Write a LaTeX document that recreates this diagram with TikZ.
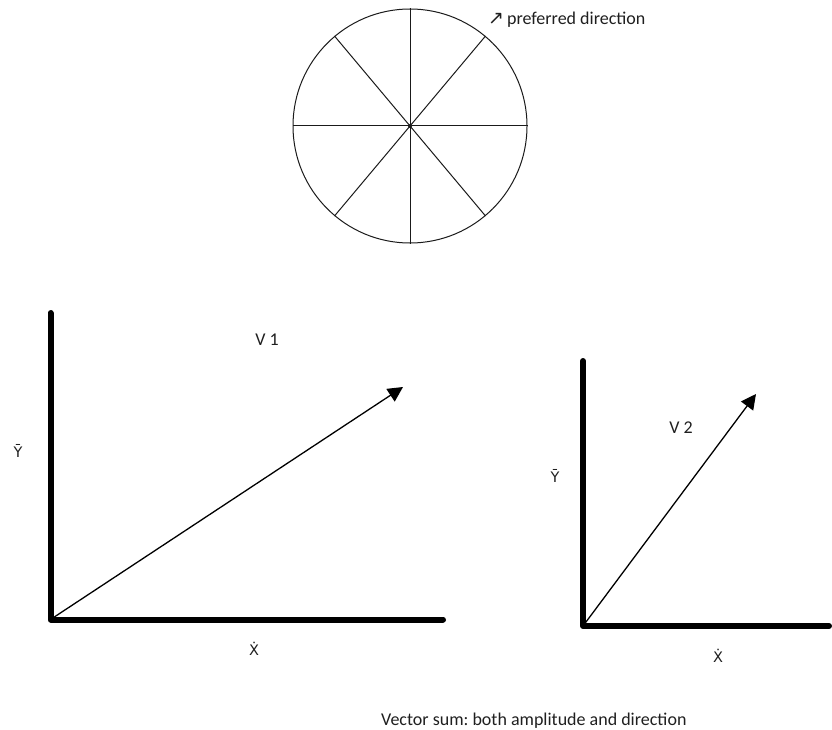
\documentclass[tikz,border=0pt]{standalone}
\usepackage{fontspec}
\setmainfont{Carlito}
\newfontfamily\arrowfont{DejaVu Sans}
\usepackage{tikz}
\usetikzlibrary{arrows.meta,positioning}
\definecolor{inkcolor}{HTML}{000000}
\definecolor{wheelcolor}{HTML}{1A1A1A}
\definecolor{labelcolor}{HTML}{1F1F1F}
\frenchspacing

\begin{document}
\begin{tikzpicture}[x=1pt, y=-1pt,
    every node/.style={font=\fontsize{18}{21}\selectfont, text=labelcolor, inner sep=0pt},
    axislabel/.style={font=\arrowfont\fontsize{14.5}{17}\selectfont},
    axisline/.style={line width=6pt, line cap=round, line join=round, color=inkcolor},
    vecline/.style={line width=1.3pt, color=inkcolor, -{Triangle[length=15pt,width=15pt]}}]
    \useasboundingbox (0,0) rectangle (832,730);

    % Direction wheel
    \node[circle, draw=wheelcolor, line width=1pt, minimum size=234pt] (wheel) at (410,126) {};
    \foreach \a in {0,50,90,130,180,230,270,310} {
        \draw[wheelcolor, line width=1pt] (wheel.center) -- (wheel.\a);
    }
    \fill[wheelcolor] (wheel.center) circle (2pt);
    \node[anchor=west] (pref) at (488,20) {{\arrowfont\fontsize{19}{19}\selectfont ↗}\,preferred direction};

    % First vector
    \coordinate (o1) at (50.5,619.5);
    \coordinate (y1) at (50.5,313);
    \coordinate (x1) at (443,619.5);
    \coordinate (v1) at (403,387);
    \draw[axisline] (y1) -- (o1) -- (x1);
    \draw[vecline] (o1) -- (v1);
    \node[axislabel] (ylabel1) at (18,451) {Ȳ};
    \node[axislabel] (xlabel1) at (254,649) {Ẋ};
    \node (vlabel1) at (267,340) {V 1};

    % Second vector
    \coordinate (o2) at (583,626);
    \coordinate (y2) at (583,361);
    \coordinate (x2) at (829,626);
    \coordinate (v2) at (756,394);
    \draw[axisline] (y2) -- (o2) -- (x2);
    \draw[vecline] (o2) -- (v2);
    \node[axislabel] (ylabel2) at (555,476) {Ȳ};
    \node[axislabel] (xlabel2) at (718,656) {Ẋ};
    \node (vlabel2) at (681,428) {V 2};

    % Caption
    \node[anchor=west] (caption) at (381,721) {Vector sum: both amplitude and direction};
\end{tikzpicture}
\end{document}
